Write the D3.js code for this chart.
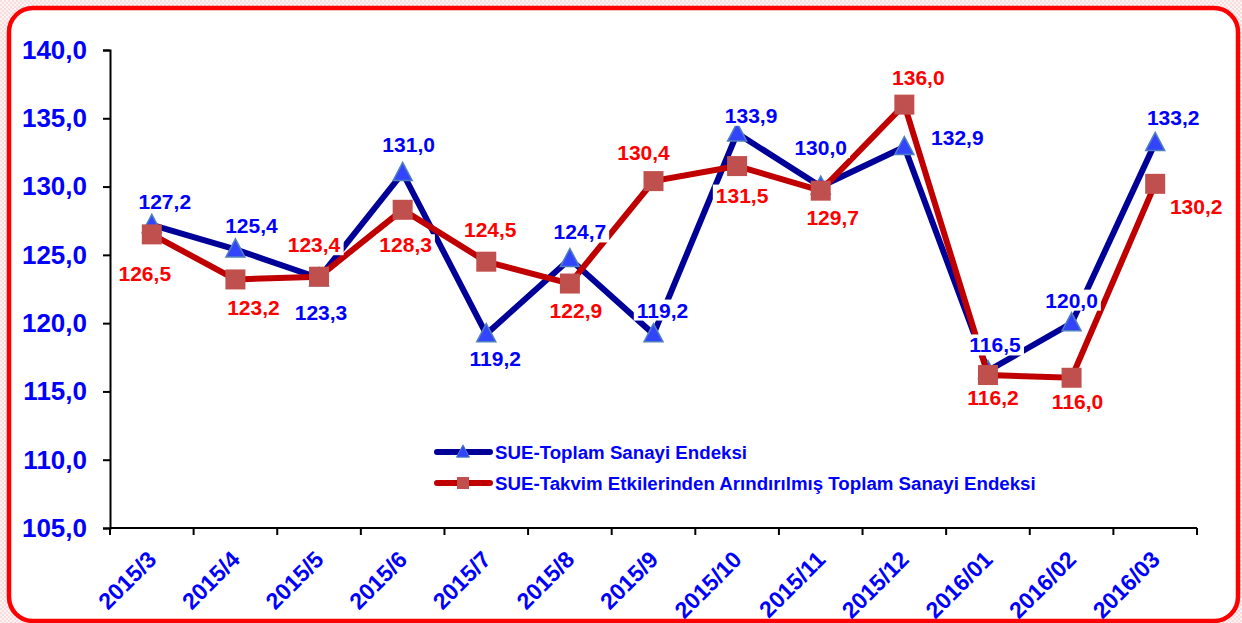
<!DOCTYPE html>
<html lang="en">
<head>
  <meta charset="UTF-8">
  <script src="https://d3js.org/d3.v7.min.js"></script>
  <title>SUE</title>
  <style>
    body { margin: 0; background: #fff; }
    svg { display: block; font-family: "Liberation Sans", Arial, sans-serif; font-weight: bold; }
  </style>
</head>
<body>
  <div id="chart"></div>
  <script>
    const months = ["2015/3", "2015/4", "2015/5", "2015/6", "2015/7", "2015/8", "2015/9",
      "2015/10", "2015/11", "2015/12", "2016/01", "2016/02", "2016/03"];
    const sueTotal = [127.2, 125.4, 123.3, 131.0, 119.2, 124.7, 119.2, 133.9, 130.0, 132.9, 116.5, 120.0, 133.2];
    const sueAdjusted = [126.5, 123.2, 123.4, 128.3, 124.5, 122.9, 130.4, 131.5, 129.7, 136.0, 116.2, 116.0, 130.2];
    const yTicks = [105, 110, 115, 120, 125, 130, 135, 140];
    const seriesNames = ["SUE-Toplam Sanayi Endeksi",
      "SUE-Takvim Etkilerinden Arındırılmış Toplam Sanayi Endeksi"];

    // label offsets (dx, dy) from each marker, as Excel placed them
    const blueLabelOff = [[13, -23], [16, -24], [2, 34], [6, -28], [9, 24], [10, -27], [9, -24],
      [14, -18], [0, -39], [53, -9], [7, -26], [0, -23], [18, -25]];
    const redLabelOff = [[-7, 39], [18, 28], [-5, -32], [3, 35], [4, -32], [6, 27], [-10, -29],
      [5, 29], [12, 27], [14, -27], [5, 22], [6, 24], [41, 23]];

    const W = 1242, H = 623;
    const plotLeft = 110, plotRight = 1197, plotTop = 50, plotBottom = 528;
    const fmt = d => d3.format(".1f")(d).replace(".", ",");

    const svg = d3.select("#chart").append("svg")
      .attr("width", W)
      .attr("height", H);

    const defs = svg.append("defs");
    const pat = defs.append("pattern")
      .attr("id", "bgpat")
      .attr("width", 4).attr("height", 4)
      .attr("patternUnits", "userSpaceOnUse");
    pat.append("rect").attr("width", 4).attr("height", 4).attr("fill", "#fdf3f3");
    pat.append("rect").attr("width", 2).attr("height", 2).attr("fill", "#f6dede");
    pat.append("rect").attr("x", 2).attr("y", 2).attr("width", 2).attr("height", 2).attr("fill", "#f6dede");

    svg.append("rect").attr("width", W).attr("height", H).attr("fill", "url(#bgpat)");
    svg.append("rect")
      .attr("x", 9).attr("y", 8)
      .attr("width", 1229).attr("height", 613)
      .attr("rx", 24).attr("ry", 24)
      .attr("fill", "#fff")
      .attr("stroke", "#ff0000")
      .attr("stroke-width", 4.5);

    const x = d3.scaleBand().domain(months).range([plotLeft, plotRight]).padding(0);
    const y = d3.scaleLinear().domain([105, 140]).range([plotBottom, plotTop]);
    const cx = d => x(d) + x.bandwidth() / 2;

    // y axis
    const yAxis = svg.append("g")
      .attr("transform", `translate(${plotLeft},0)`)
      .call(d3.axisLeft(y).tickValues(yTicks).tickSize(7).tickPadding(16).tickFormat(fmt));
    yAxis.select(".domain").attr("stroke", "#000").attr("stroke-width", 2);
    yAxis.selectAll(".tick line").attr("stroke", "#000").attr("stroke-width", 2);
    yAxis.selectAll(".tick text")
      .attr("fill", "#0000ff")
      .attr("font-size", 26)
      .attr("font-family", "Liberation Sans, Arial, sans-serif")
      .attr("font-weight", "bold");

    // x axis: ticks on band boundaries
    svg.append("line")
      .attr("x1", plotLeft).attr("x2", plotRight)
      .attr("y1", plotBottom).attr("y2", plotBottom)
      .attr("stroke", "#000").attr("stroke-width", 2);
    const bounds = months.map(m => x(m)).concat([plotRight]);
    svg.selectAll(".xtick")
      .data(bounds)
      .enter()
      .append("line")
      .attr("class", "xtick")
      .attr("x1", d => d).attr("x2", d => d)
      .attr("y1", plotBottom).attr("y2", plotBottom + 7)
      .attr("stroke", "#000").attr("stroke-width", 2);
    svg.selectAll(".xlab")
      .data(months)
      .enter()
      .append("text")
      .attr("class", "xlab")
      .attr("transform", d => `translate(${cx(d) + 6},561) rotate(-45)`)
      .attr("text-anchor", "end")
      .attr("fill", "#0000ff")
      .attr("font-size", 23)
      .text(d => d);

    const line = d3.line().x((d, i) => cx(months[i])).y(d => y(d));

    function triangle(px, py, s) {
      return `M${px},${py - s * 0.55}L${px + s / 2},${py + s * 0.4}L${px - s / 2},${py + s * 0.4}Z`;
    }

    // blue series
    svg.append("path")
      .datum(sueTotal)
      .attr("d", line)
      .attr("fill", "none")
      .attr("stroke", "#000099")
      .attr("stroke-width", 6)
      .attr("stroke-linejoin", "miter");
    svg.selectAll(".tri")
      .data(sueTotal)
      .enter()
      .append("path")
      .attr("class", "tri")
      .attr("d", (d, i) => triangle(cx(months[i]), y(d), 19))
      .attr("fill", "#3344ff")
      .attr("stroke", "#4f81bd")
      .attr("stroke-width", 1.5);

    // red series
    svg.append("path")
      .datum(sueAdjusted)
      .attr("d", line)
      .attr("fill", "none")
      .attr("stroke", "#c00000")
      .attr("stroke-width", 6)
      .attr("stroke-linejoin", "miter");
    svg.selectAll(".sq")
      .data(sueAdjusted)
      .enter()
      .append("rect")
      .attr("class", "sq")
      .attr("x", (d, i) => cx(months[i]) - 10)
      .attr("y", d => y(d) - 10)
      .attr("width", 20).attr("height", 20)
      .attr("fill", "#c0504d");

    // data labels with white boxes
    function addLabels(vals, offs, color) {
      const g = svg.append("g");
      vals.forEach((v, i) => {
        const lg = g.append("g");
        const t = lg.append("text")
          .attr("x", cx(months[i]) + offs[i][0])
          .attr("y", y(v) + offs[i][1])
          .attr("text-anchor", "middle")
          .attr("dominant-baseline", "central")
          .attr("fill", color)
          .attr("font-size", 21)
          .text(fmt(v));
        const bb = t.node().getBBox();
        lg.insert("rect", "text")
          .attr("x", bb.x - 3).attr("y", bb.y + 1)
          .attr("width", bb.width + 6).attr("height", bb.height - 2)
          .attr("fill", "#fff");
      });
    }
    addLabels(sueTotal, blueLabelOff, "#0000ff");
    addLabels(sueAdjusted, redLabelOff, "#ff0000");

    // legend
    const legend = svg.append("g");
    const legY = [452, 483];
    const legColors = ["#000099", "#c00000"];
    seriesNames.forEach((name, i) => {
      legend.append("line")
        .attr("x1", 437).attr("x2", 490)
        .attr("y1", legY[i]).attr("y2", legY[i])
        .attr("stroke", legColors[i])
        .attr("stroke-width", 6)
        .attr("stroke-linecap", "round");
      if (i === 0) {
        legend.append("path")
          .attr("d", triangle(463, legY[i], 13))
          .attr("fill", "#3344ff")
          .attr("stroke", "#4f81bd")
          .attr("stroke-width", 1);
      } else {
        legend.append("rect")
          .attr("x", 457).attr("y", legY[i] - 6)
          .attr("width", 12).attr("height", 12)
          .attr("fill", "#c0504d");
      }
      legend.append("text")
        .attr("x", 495)
        .attr("y", legY[i])
        .attr("dominant-baseline", "central")
        .attr("fill", "#0000ff")
        .attr("font-size", 18.7)
        .text(name);
    });
  </script>
</body>
</html>
